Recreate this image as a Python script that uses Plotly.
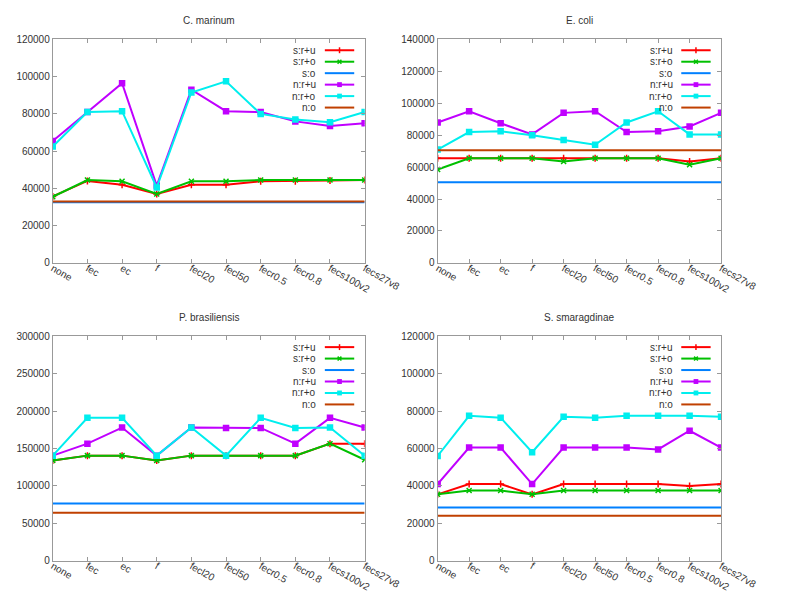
import plotly.graph_objects as go
from plotly.subplots import make_subplots

# x categories shared by all four panels
categories = ['none', 'fec', 'ec', 'f', 'fecl20', 'fecl50', 'fecr0.5', 'fecr0.8', 'fecs100v2', 'fecs27v8']
series_names = ['s:r+u', 's:r+o', 's:o', 'n:r+u', 'n:r+o', 'n:o']
titles = ['C. marinum', 'E. coli', 'P. brasiliensis', 'S. smaragdinae']

# C. marinum
cm_sru = [35700, 44000, 42000, 37000, 42000, 42000, 43800, 43800, 44200, 44500]
cm_sro = [35500, 44500, 43800, 37000, 43800, 43800, 44500, 44500, 44500, 44500]
cm_so = [32500, 32500, 32500, 32500, 32500, 32500, 32500, 32500, 32500, 32500]
cm_nru = [65500, 81000, 96500, 41500, 93000, 81500, 81000, 76000, 73500, 75000]
cm_nro = [62500, 81000, 81500, 40500, 91500, 97500, 80000, 77000, 75500, 81000]
cm_no = [33000, 33000, 33000, 33000, 33000, 33000, 33000, 33000, 33000, 33000]

# E. coli
ec_sru = [65500, 65500, 65500, 65500, 65500, 65500, 65500, 65500, 63500, 65500]
ec_sro = [58500, 65500, 65500, 65500, 63500, 65500, 65500, 65500, 61500, 65500]
ec_so = [50500, 50500, 50500, 50500, 50500, 50500, 50500, 50500, 50500, 50500]
ec_nru = [88000, 95000, 87500, 80500, 94000, 95000, 82000, 82500, 85500, 94000]
ec_nro = [71000, 82000, 82500, 80000, 77000, 74000, 88000, 95000, 80500, 80500]
ec_no = [70500, 70500, 70500, 70500, 70500, 70500, 70500, 70500, 70500, 70500]

# P. brasiliensis
pb_sru = [134000, 140500, 140500, 134000, 140500, 140500, 140500, 140500, 156500, 156500]
pb_sro = [134000, 140500, 140500, 134000, 140500, 140500, 140500, 140500, 156500, 135000]
pb_so = [76500, 76500, 76500, 76500, 76500, 76500, 76500, 76500, 76500, 76500]
pb_nru = [140500, 156500, 178000, 140500, 178000, 177500, 177500, 156500, 191000, 178000]
pb_nro = [140500, 191000, 191000, 140500, 178000, 140500, 191000, 177500, 178000, 140500]
pb_no = [64000, 64000, 64000, 64000, 64000, 64000, 64000, 64000, 64000, 64000]

# S. smaragdinae
ss_sru = [35500, 41000, 41000, 35500, 41000, 41000, 41000, 41000, 40000, 41000]
ss_sro = [35500, 37500, 37500, 35500, 37500, 37500, 37500, 37500, 37500, 37500]
ss_so = [28500, 28500, 28500, 28500, 28500, 28500, 28500, 28500, 28500, 28500]
ss_nru = [41000, 60500, 60500, 41000, 60500, 60500, 60500, 59500, 69500, 60500]
ss_nro = [56000, 77500, 76500, 58000, 77000, 76500, 77500, 77500, 77500, 77000]
ss_no = [24000, 24000, 24000, 24000, 24000, 24000, 24000, 24000, 24000, 24000]

panels = [
    [cm_sru, cm_sro, cm_so, cm_nru, cm_nro, cm_no],
    [ec_sru, ec_sro, ec_so, ec_nru, ec_nro, ec_no],
    [pb_sru, pb_sro, pb_so, pb_nru, pb_nro, pb_no],
    [ss_sru, ss_sro, ss_so, ss_nru, ss_nro, ss_no],
]
y_max = [120000, 140000, 300000, 120000]
y_step = [20000, 20000, 50000, 20000]

# gnuplot-ish colours and point types
colors = ['#ff0000', '#00c000', '#0080ff', '#c000ff', '#00eeee', '#c04000']
symbols = ['cross-thin', 'x-thin', None, 'square', 'square', None]

W, H = 788, 593
# plot areas in pixels: (left, right, top, bottom)
boxes = [(43, 372, 26, 254), (449, 748, 26, 254), (43, 372, 329, 558), (449, 748, 329, 558)]

fig = make_subplots(rows=2, cols=2)

font = 'Liberation Sans, Arial, sans-serif'
shapes, annotations = [], []

for p, series in enumerate(panels):
    row, col = p // 2 + 1, p % 2 + 1
    for s, vals in enumerate(series):
        sym = symbols[s]
        fig.add_trace(go.Scatter(
            x=categories, y=vals, name=series_names[s], showlegend=False,
            mode='lines+markers' if sym else 'lines',
            line=dict(color=colors[s], width=2),
            marker=dict(symbol=sym, size=5, color=colors[s],
                        line=dict(color=colors[s], width=1.5)) if sym else None,
        ), row=row, col=col)

    left, right, top, bottom = boxes[p]
    xd = [left / W, right / W]
    yd = [1 - bottom / H, 1 - top / H]
    n = p + 1
    xa = 'xaxis' if n == 1 else 'xaxis%d' % n
    ya = 'yaxis' if n == 1 else 'yaxis%d' % n
    fig.layout[xa].update(domain=xd)
    fig.layout[ya].update(domain=yd)
    fig.update_xaxes(row=row, col=col, type='category', range=[0, 9],
                     tickangle=30, ticks='inside', ticklen=4, tickcolor='#999',
                     ticklabelstandoff=-5,
                     showline=True, linecolor='#999', linewidth=1, mirror='ticks',
                     showgrid=False, zeroline=False,
                     tickfont=dict(family=font, size=10, color='#333'))
    fig.update_yaxes(row=row, col=col, range=[0, y_max[p]], dtick=y_step[p],
                     tickformat='d', ticks='inside', ticklen=4, tickcolor='#999',
                     showline=True, linecolor='#999', linewidth=1, mirror='ticks',
                     showgrid=False, zeroline=False,
                     tickfont=dict(family=font, size=10, color='#333'))

    # panel title
    annotations.append(dict(text=titles[p], x=(left + right) / 2 / W, y=1 - (top - 19) / H,
                            xref='paper', yref='paper', showarrow=False,
                            xanchor='center', yanchor='middle',
                            font=dict(family=font, size=10, color='#333')))

    # gnuplot style key: label on the left, sample on the right
    for s, name in enumerate(series_names):
        ypx = top + 11 + s * 11.7
        yp = 1 - ypx / H
        x0, x1 = right - 42, right - 11
        annotations.append(dict(text=name, x=(right - 49) / W, y=yp, xref='paper', yref='paper',
                                showarrow=False, xanchor='right', yanchor='middle',
                                font=dict(family=font, size=10, color='#333')))
        shapes.append(dict(type='line', xref='paper', yref='paper', x0=x0 / W, x1=x1 / W,
                           y0=yp, y1=yp, line=dict(color=colors[s], width=2)))
        cx = (x0 + x1) / 2
        if symbols[s] == 'square':
            shapes.append(dict(type='rect', xref='paper', yref='paper',
                               x0=(cx - 2.5) / W, x1=(cx + 2.5) / W,
                               y0=yp - 2.5 / H, y1=yp + 2.5 / H,
                               fillcolor=colors[s], line=dict(width=0)))
        elif symbols[s] == 'cross-thin':
            shapes.append(dict(type='line', xref='paper', yref='paper', x0=cx / W, x1=cx / W,
                               y0=yp - 3 / H, y1=yp + 3 / H, line=dict(color=colors[s], width=1.5)))
        elif symbols[s] == 'x-thin':
            for d in (1, -1):
                shapes.append(dict(type='line', xref='paper', yref='paper',
                                   x0=(cx - 2) / W, x1=(cx + 2) / W,
                                   y0=yp - d * 2 / H, y1=yp + d * 2 / H,
                                   line=dict(color=colors[s], width=1.5)))

fig.update_layout(width=W, height=H, margin=dict(l=0, r=0, t=0, b=0),
                  paper_bgcolor='white', plot_bgcolor='white',
                  shapes=shapes, annotations=annotations, showlegend=False)

fig.write_html("out.html")
